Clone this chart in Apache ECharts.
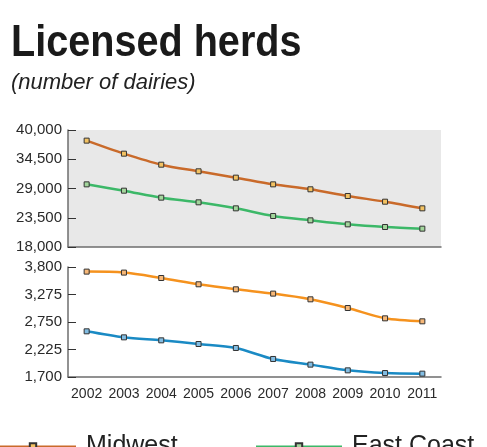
<!DOCTYPE html>
<html>
<head>
<meta charset="utf-8">
<script src="https://cdn.jsdelivr.net/npm/echarts@6/dist/echarts.min.js"></script>
<style>
  html, body { margin: 0; padding: 0; background: #fff; }
  #chart { width: 487px; height: 447px; }
</style>
</head>
<body>
<div id="chart"></div>
<script>
var years = ['2002', '2003', '2004', '2005', '2006', '2007', '2008', '2009', '2010', '2011'];
// upper panel
var midwest = [38000, 35550, 33480, 32230, 31040, 29780, 28850, 27590, 26520, 25270];
var eastCoast = [29780, 28590, 27280, 26400, 25270, 23830, 23010, 22260, 21760, 21450];
// lower panel
var lowerA = [3712, 3693, 3590, 3470, 3374, 3292, 3183, 3017, 2820, 2763];
var lowerB = [2572, 2457, 2400, 2330, 2254, 2044, 1936, 1827, 1776, 1764];
var topTicks = [18000, 23500, 29000, 34500, 40000];
var bottomTicks = [1700, 2225, 2750, 3275, 3800];

var sans = "'Liberation Sans', Arial, sans-serif";
var axisColor = '#6e6e6e';

function fmt(v) {
	return Number(v).toLocaleString('en-US');
}

function xAxis(idx, labels) {
	return {
		type: 'category',
		gridIndex: idx,
		data: years,
		boundaryGap: true,
		axisLine: { lineStyle: { color: axisColor, width: 1.5 } },
		axisTick: { inside: true, length: 3, lineStyle: { color: axisColor } },
		axisLabel: {
			show: labels,
			interval: 0,
			margin: 10,
			color: '#2a2a2a',
			fontSize: 14,
			fontFamily: sans
		}
	};
}

function yAxis(idx, ticks) {
	return {
		type: 'value',
		gridIndex: idx,
		min: ticks[0],
		max: ticks[ticks.length - 1],
		axisLine: { show: true, lineStyle: { color: axisColor, width: 1.5 } },
		axisTick: { show: true, inside: true, length: 8, lineStyle: { color: '#333' }, customValues: ticks },
		splitLine: { show: false },
		axisLabel: {
			customValues: ticks,
			formatter: fmt,
			margin: 6,
			color: '#2a2a2a',
			fontSize: 15,
			fontFamily: sans
		}
	};
}

function line(name, idx, data, color, fill) {
	return {
		name: name,
		type: 'line',
		xAxisIndex: idx,
		yAxisIndex: idx,
		data: data,
		smooth: 0.3,
		symbol: 'rect',
		symbolSize: 5,
		showAllSymbol: true,
		lineStyle: { color: color, width: 2.5 },
		itemStyle: { color: fill, borderColor: '#333', borderWidth: 1 }
	};
}

function legend(name, left) {
	return {
		data: [name],
		left: left,
		top: 429,
		itemWidth: 86,
		itemHeight: 8,
		textStyle: { fontSize: 25, color: '#222', fontFamily: sans, padding: [8, 0, 0, 5] }
	};
}

var ec = echarts.init(document.getElementById('chart'));
ec.setOption({
	animation: false,
	graphic: [{
		type: 'text',
		left: 11,
		top: 21,
		scaleX: 0.88,
		style: { text: 'Licensed herds', font: 'bold 45px ' + sans, fill: '#1a1a1a' }
	}, {
		type: 'text',
		left: 11,
		top: 72,
		style: { text: '(number of dairies)', font: 'italic 22px ' + sans, fill: '#222' }
	}],
	legend: [legend('Midwest', -16), legend('East Coast', 250)],
	grid: [{
		left: 68, top: 130, width: 373, height: 117,
		show: true, backgroundColor: '#e8e8e8', borderWidth: 0
	}, {
		left: 68, top: 267, width: 373, height: 110
	}],
	xAxis: [xAxis(0, false), xAxis(1, true)],
	yAxis: [yAxis(0, topTicks), yAxis(1, bottomTicks)],
	series: [
		line('Midwest', 0, midwest, '#c96a2a', '#f3c262'),
		line('East Coast', 0, eastCoast, '#3cb868', '#a3d69c'),
		line('West', 1, lowerA, '#f5921e', '#f7b878'),
		line('South', 1, lowerB, '#1a8ac4', '#82bde3')
	]
});
</script>
</body>
</html>
